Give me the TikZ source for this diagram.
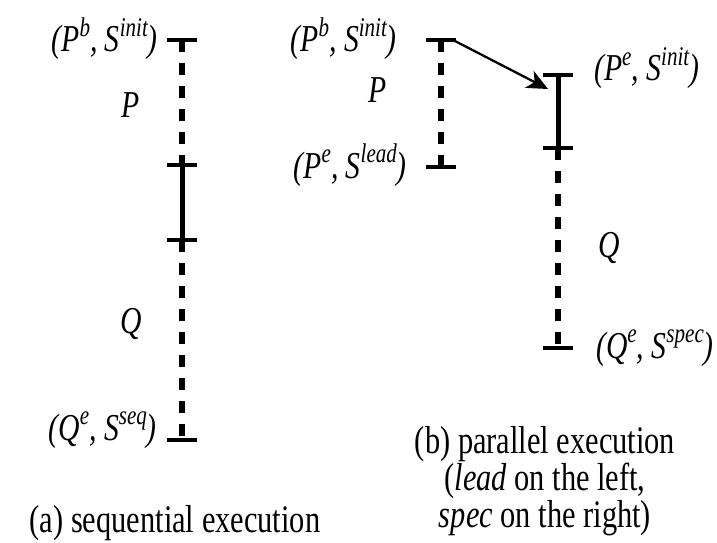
\documentclass[tikz,border=0pt]{standalone}
\usepackage{fontspec}
\setmainfont{Liberation Serif}[FakeStretch=0.78]
\usetikzlibrary{arrows.meta}
\tikzset{
  bar/.style={line width=5pt},
  dbar/.style={line width=5.5pt, dash pattern=on 12pt off 11pt},
  capline/.style={line width=4.5pt},
  lab/.style={font=\fontsize{38}{40}\selectfont\itshape, inner sep=0pt},
  captext/.style={font=\fontsize{39}{32}\selectfont, inner sep=0pt, align=center},
  arr/.style={line width=2.3pt, -{Stealth[length=21pt,width=19pt,inset=6pt]}}
}
\newcommand\supx[1]{\raisebox{0.42em}{\fontsize{27}{27}\selectfont #1}}
\begin{document}
\begin{tikzpicture}[x=1pt,y=-1pt]
\useasboundingbox (0,0) rectangle (717,543);
% (a)
\coordinate (a1) at (182,40);
\coordinate (a2) at (182,165);
\coordinate (a3) at (182,240);
\coordinate (a4) at (182,440);
\draw[dbar] (a1) -- (a2);
\draw[bar] (a2) -- (a3);
\draw[dbar] (a3) -- (a4);
\foreach \c in {a1,a2,a3,a4} \draw[capline] ([xshift=-15pt]\c) -- ([xshift=15pt]\c);
\node[lab, anchor=base east] (la1) at (158,52) {(P\supx{b}, S\supx{init})};
\node[lab, anchor=base] (lP) at (131,117) {P};
\node[lab, anchor=base] (lQ) at (131,333) {Q};
\node[lab, anchor=base east] (la4) at (157,440) {(Q\supx{e}, S\supx{seq})};
\node[captext, anchor=base] (capa) at (175,532) {(a) sequential execution};
% (b)
\coordinate (b1) at (441,40);
\coordinate (b2) at (441,167);
\coordinate (c1) at (558,75);
\coordinate (c2) at (558,148);
\coordinate (c3) at (558,348);
\draw[dbar] (b1) -- (b2);
\draw[bar] (c1) -- (c2);
\draw[dbar] (c2) -- (c3);
\foreach \c in {b1,b2,c1,c2,c3} \draw[capline] ([xshift=-15pt]\c) -- ([xshift=15pt]\c);
\draw[arr] ([xshift=12pt]b1) -- ([xshift=-10pt,yshift=-14pt]c1);
\node[lab, anchor=base east] (lb1) at (397,52) {(P\supx{b}, S\supx{init})};
\node[lab, anchor=base] (lbP) at (378,102) {P};
\node[lab, anchor=base east] (lb2) at (407,178) {(P\supx{e}, S\supx{lead})};
\node[lab, anchor=base west] (lc1) at (594,81) {(P\supx{e}, S\supx{init})};
\node[lab, anchor=base] (lbQ) at (609,257) {Q};
\node[lab, anchor=base west] (lc3) at (596,358) {(Q\supx{e}, S\supx{spec})};
\node[captext, anchor=base] (capb) at (545,527) {(b) parallel execution\\(\textit{lead} on the left,\\\textit{spec} on the right)};
\end{tikzpicture}
\end{document}
